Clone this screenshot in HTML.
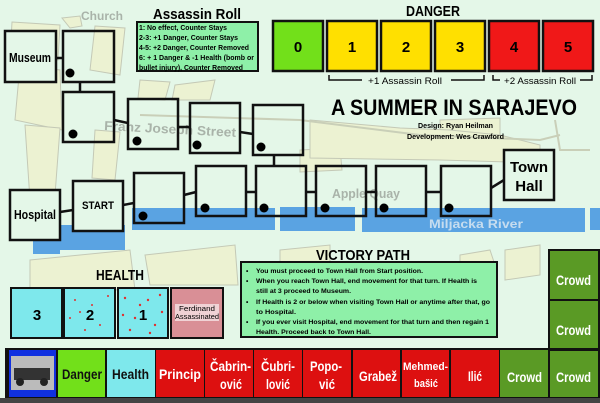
<!DOCTYPE html>
<html><head><meta charset="utf-8"><style>
body{margin:0;width:600px;height:403px;overflow:hidden;background:#e4f7e8;font-family:"Liberation Sans",sans-serif}
svg{display:block}
text{font-family:"Liberation Sans",sans-serif;font-weight:bold}
</style></head><body>
<svg width="600" height="403" viewBox="0 0 600 403" xmlns="http://www.w3.org/2000/svg">
<rect width="600" height="403" fill="#e4f7e8"/>
<g fill="#ecf2d2" stroke="#c4c9b6" stroke-width="1">
<path d="M12 22 L60 25 L58 60 L10 58Z"/>
<path d="M62 18 L80 16 L82 26 L70 28Z"/>
<path d="M95 26 L125 28 L120 75 L90 70Z"/>
<path d="M20 65 L60 70 L62 130 L15 120Z"/>
<path d="M25 125 L60 128 L55 195 L30 200Z"/>
<path d="M95 130 L120 132 L115 180 L92 178Z"/>
<path d="M140 80 L170 82 L165 100 L138 98Z"/>
<path d="M175 85 L215 80 L210 100 L172 100Z"/>
<path d="M300 150 L340 148 L342 170 L300 172Z"/>
<path d="M440 120 L500 118 L500 140 L440 140Z"/>
<path d="M310 120 L400 128 L450 130 L500 135 L540 145 L540 160 L510 162 L440 160 L310 158Z"/>
<path d="M30 260 L130 250 L135 290 L30 290Z"/>
<path d="M145 255 L235 245 L238 285 L150 285Z"/>
<path d="M280 250 L330 245 L330 262 L280 262Z"/>
<path d="M505 250 L540 245 L540 275 L505 280Z"/>
<path d="M460 255 L490 250 L495 265 L460 268Z"/>
</g>
<g fill="none" stroke="#c9cfb8" stroke-width="2">
<path d="M140 115 L300 120 L420 135 L540 140 L560 135"/>
<path d="M555 120 L560 150 L590 150"/>
</g>
<g fill="#5aa3e2">
<rect x="33" y="222" width="27" height="32"/>
<rect x="60" y="225" width="65" height="25"/>
<rect x="132" y="208" width="143" height="22"/>
<rect x="280" y="207" width="75" height="24"/>
<rect x="362" y="208" width="223" height="24"/>
<rect x="590" y="208" width="10" height="22"/>
</g>
<text x="81" y="20" font-size="12" fill="#a9b3a9" textLength="42" lengthAdjust="spacingAndGlyphs">Church</text>
<text x="104" y="130" font-size="13" fill="#a9b3a9" transform="rotate(3 104 130)" textLength="132" lengthAdjust="spacingAndGlyphs">Franz Joseph Street</text>
<text x="332" y="198" font-size="13" fill="#a9b3a9" textLength="68" lengthAdjust="spacingAndGlyphs">Apple Quay</text>
<text x="429" y="228" font-size="12" fill="#c6dcef" textLength="94" lengthAdjust="spacingAndGlyphs">Miljacka River</text>
<g stroke="#111" stroke-width="2.5">
<line x1="56" y1="58" x2="63" y2="58"/><line x1="80" y1="82" x2="80" y2="92"/>
<line x1="114" y1="120" x2="128" y2="123"/><line x1="178" y1="127" x2="190" y2="127"/>
<line x1="240" y1="132" x2="253" y2="134"/><line x1="274" y1="155" x2="274" y2="166"/>
<line x1="60" y1="212" x2="73" y2="210"/><line x1="123" y1="205" x2="134" y2="203"/>
<line x1="184" y1="195" x2="196" y2="192"/><line x1="246" y1="192" x2="256" y2="192"/>
<line x1="306" y1="192" x2="316" y2="192"/><line x1="367" y1="192" x2="376" y2="192"/>
<line x1="426" y1="192" x2="441" y2="192"/><line x1="491" y1="188" x2="504" y2="180"/>
</g>
<g fill="none" stroke="#111" stroke-width="2.5">
<rect x="5" y="31" width="51" height="51" fill="#e4f7e8"/>
<rect x="63" y="31" width="51" height="51"/>
<rect x="63" y="92" width="51" height="50"/>
<rect x="128" y="99" width="50" height="50"/>
<rect x="190" y="103" width="50" height="50"/>
<rect x="253" y="105" width="50" height="50"/>
<rect x="10" y="190" width="50" height="50" fill="#e4f7e8"/>
<rect x="73" y="181" width="50" height="50" fill="#e4f7e8"/>
<rect x="134" y="173" width="50" height="50"/>
<rect x="196" y="166" width="50" height="50"/>
<rect x="256" y="166" width="50" height="50"/>
<rect x="316" y="166" width="50" height="50"/>
<rect x="376" y="166" width="50" height="50"/>
<rect x="441" y="166" width="50" height="50"/>
<rect x="504" y="150" width="50" height="50" fill="#e4f7e8"/>
</g>
<g fill="#000">
<circle cx="70" cy="73" r="4.5"/><circle cx="73" cy="134" r="4.5"/><circle cx="137" cy="141" r="4.5"/>
<circle cx="197" cy="145" r="4.5"/><circle cx="261" cy="147" r="4.5"/><circle cx="143" cy="216" r="4.5"/>
<circle cx="205" cy="208" r="4.5"/><circle cx="264" cy="208" r="4.5"/><circle cx="325" cy="208" r="4.5"/>
<circle cx="384" cy="208" r="4.5"/><circle cx="449" cy="208" r="4.5"/>
</g>
<text x="9" y="62" font-size="13" textLength="42" lengthAdjust="spacingAndGlyphs">Museum</text>
<text x="14" y="219" font-size="13" textLength="42" lengthAdjust="spacingAndGlyphs">Hospital</text>
<text x="82" y="209" font-size="11" textLength="32" lengthAdjust="spacingAndGlyphs">START</text>
<text x="529" y="172" font-size="15" text-anchor="middle">Town</text>
<text x="529" y="191" font-size="15" text-anchor="middle">Hall</text>
<text x="153" y="19" font-size="15" textLength="88" lengthAdjust="spacingAndGlyphs">Assassin Roll</text>
<rect x="137" y="22" width="121" height="49" fill="#8ef0a8" stroke="#111" stroke-width="2"/>
<g font-size="7.2"><text x="139" y="30" textLength="88" lengthAdjust="spacingAndGlyphs">1: No effect, Counter Stays</text>
<text x="139" y="40" textLength="99" lengthAdjust="spacingAndGlyphs">2-3: +1 Danger, Counter Stays</text>
<text x="139" y="50" textLength="110" lengthAdjust="spacingAndGlyphs">4-5: +2 Danger, Counter Removed</text>
<text x="139" y="60" textLength="115" lengthAdjust="spacingAndGlyphs">6: + 1 Danger &amp; -1 Health (bomb or</text>
<text x="139" y="70" textLength="104" lengthAdjust="spacingAndGlyphs">bullet injury), Counter Removed</text></g>
<text x="406" y="16" font-size="15" textLength="54" lengthAdjust="spacingAndGlyphs">DANGER</text>
<g stroke="#111" stroke-width="2.5">
<rect x="273" y="21" width="50" height="50" fill="#72e01a"/>
<rect x="327" y="21" width="50" height="50" fill="#ffe000"/>
<rect x="381" y="21" width="50" height="50" fill="#ffe000"/>
<rect x="435" y="21" width="50" height="50" fill="#ffe000"/>
<rect x="489" y="21" width="50" height="50" fill="#f01818"/>
<rect x="543" y="21" width="50" height="50" fill="#f01818"/>
</g>
<g font-size="15" text-anchor="middle"><text x="298" y="52">0</text><text x="352" y="52">1</text><text x="406" y="52">2</text><text x="460" y="52">3</text><text x="514" y="52">4</text><text x="568" y="52">5</text></g>
<g fill="none" stroke="#111" stroke-width="1.5">
<path d="M329 75 V80 H362"/><path d="M451 80 H484 V75"/>
<path d="M493 75 V80 H500"/><path d="M580 80 H592 V75"/>
</g>
<text x="368" y="84" font-size="9" style="font-weight:normal" textLength="74" lengthAdjust="spacingAndGlyphs">+1 Assassin Roll</text>
<text x="504" y="84" font-size="9" style="font-weight:normal" textLength="72" lengthAdjust="spacingAndGlyphs">+2 Assassin Roll</text>
<text x="331" y="115" font-size="22" textLength="246" lengthAdjust="spacingAndGlyphs">A SUMMER IN SARAJEVO</text>
<text x="418" y="128" font-size="7" textLength="75" lengthAdjust="spacingAndGlyphs">Design: Ryan Heilman</text>
<text x="407" y="139" font-size="7" textLength="97" lengthAdjust="spacingAndGlyphs">Development: Wes Crawford</text>
<text x="96" y="280" font-size="15" textLength="48" lengthAdjust="spacingAndGlyphs">HEALTH</text>
<g stroke="#111" stroke-width="2">
<rect x="11" y="288" width="51" height="50" fill="#7ee8ec"/>
<rect x="64" y="288" width="51" height="50" fill="#7ee8ec"/>
<rect x="118" y="288" width="50" height="50" fill="#7ee8ec"/>
<rect x="171" y="288" width="52" height="50" fill="#d98f96"/>
</g>
<g fill="#e03030">
<circle cx="75" cy="300" r="1"/><circle cx="100" cy="325" r="1"/><circle cx="85" cy="330" r="1"/><circle cx="108" cy="296" r="1"/><circle cx="70" cy="318" r="1"/><circle cx="92" cy="305" r="1"/><circle cx="80" cy="312" r="1"/>
<circle cx="125" cy="298" r="1.2"/><circle cx="140" cy="305" r="1.2"/><circle cx="160" cy="295" r="1.2"/><circle cx="130" cy="330" r="1.2"/><circle cx="155" cy="325" r="1.2"/><circle cx="123" cy="315" r="1.2"/><circle cx="150" cy="333" r="1.2"/><circle cx="162" cy="312" r="1.2"/><circle cx="135" cy="318" r="1.2"/><circle cx="148" cy="300" r="1.2"/>
</g>
<g font-size="15" text-anchor="middle"><text x="37" y="320">3</text><text x="90" y="320">2</text><text x="143" y="320">1</text></g>
<rect x="175" y="304" width="44" height="17" fill="#fff" opacity="0.6"/>
<text x="179" y="311" font-size="7" style="font-weight:normal" textLength="36" lengthAdjust="spacingAndGlyphs">Ferdinand</text>
<text x="175" y="319" font-size="7" style="font-weight:normal" textLength="44" lengthAdjust="spacingAndGlyphs">Assassinated</text>
<text x="316" y="260" font-size="15" textLength="94" lengthAdjust="spacingAndGlyphs">VICTORY PATH</text>
<rect x="241" y="262" width="256" height="75" fill="#8ef0a8" stroke="#111" stroke-width="2"/>
<g font-size="6.6"><text x="246" y="273">•</text><text x="256" y="273" textLength="167" lengthAdjust="spacingAndGlyphs">You must proceed to Town Hall from Start position.</text>
<text x="246" y="283">•</text><text x="256" y="283" textLength="221" lengthAdjust="spacingAndGlyphs">When you reach Town Hall, end movement for that turn. If Health is</text>
<text x="256" y="293" textLength="95" lengthAdjust="spacingAndGlyphs">still at 3 proceed to Museum.</text>
<text x="246" y="304">•</text><text x="256" y="304" textLength="234" lengthAdjust="spacingAndGlyphs">If Health is 2 or below when visiting Town Hall or anytime after that, go</text>
<text x="256" y="314" textLength="40" lengthAdjust="spacingAndGlyphs">to Hospital.</text>
<text x="246" y="324">•</text><text x="256" y="324" textLength="233" lengthAdjust="spacingAndGlyphs">If you ever visit Hospital, end movement for that turn and then regain 1</text>
<text x="256" y="334" textLength="115" lengthAdjust="spacingAndGlyphs">Health. Proceed back to Town Hall.</text></g>
<rect x="548" y="249" width="52" height="152" fill="#111"/>
<rect x="550" y="251" width="48" height="48" fill="#5a9a25"/>
<rect x="550" y="301" width="48" height="48" fill="#5a9a25"/>
<rect x="5" y="348" width="595" height="52" fill="#111"/>
<rect x="0" y="398" width="600" height="5" fill="#444"/>
<rect x="9" y="350" width="47" height="47" fill="#1030e0"/>
<rect x="11" y="356" width="43" height="34" fill="#bbb"/>
<rect x="14" y="368" width="36" height="12" fill="#333"/>
<circle cx="20" cy="382" r="4" fill="#222"/><circle cx="44" cy="382" r="4" fill="#222"/>
<rect x="58" y="350" width="47" height="47" fill="#72e01a"/>
<rect x="107" y="350" width="48" height="47" fill="#7ee8ec"/>
<g fill="#dd1010">
<rect x="156" y="350" width="48" height="47"/><rect x="205" y="350" width="48" height="47"/>
<rect x="254" y="350" width="48" height="47"/><rect x="303" y="350" width="48" height="47"/>
<rect x="353" y="350" width="47" height="47"/><rect x="402" y="350" width="47" height="47"/>
<rect x="451" y="350" width="48" height="47"/></g>
<rect x="500" y="350" width="48" height="47" fill="#5a9a25"/>
<rect x="550" y="351" width="48" height="46" fill="#5a9a25"/>
<g font-size="14" fill="#111"><text x="62" y="379" textLength="40" lengthAdjust="spacingAndGlyphs">Danger</text><text x="112" y="379" textLength="37" lengthAdjust="spacingAndGlyphs">Health</text></g>
<g font-size="14" fill="#fff">
<text x="159" y="379" textLength="42" lengthAdjust="spacingAndGlyphs">Princip</text>
<text x="210" y="371" textLength="41" lengthAdjust="spacingAndGlyphs">Čabrin-</text><text x="220" y="389" textLength="22" lengthAdjust="spacingAndGlyphs">ović</text>
<text x="261" y="371" textLength="34" lengthAdjust="spacingAndGlyphs">Čubri-</text><text x="266" y="389" textLength="24" lengthAdjust="spacingAndGlyphs">lović</text>
<text x="310" y="371" textLength="32" lengthAdjust="spacingAndGlyphs">Popo-</text><text x="319" y="389" textLength="16" lengthAdjust="spacingAndGlyphs">vić</text>
<text x="359" y="381" textLength="38" lengthAdjust="spacingAndGlyphs">Grabež</text>
<text x="403" y="370" font-size="11" textLength="45" lengthAdjust="spacingAndGlyphs">Mehmed-</text><text x="414" y="387" font-size="11" textLength="24" lengthAdjust="spacingAndGlyphs">bašić</text>
<text x="468" y="381" textLength="14" lengthAdjust="spacingAndGlyphs">Ilić</text>
<text x="507" y="382" textLength="35" lengthAdjust="spacingAndGlyphs">Crowd</text><text x="556" y="382" textLength="35" lengthAdjust="spacingAndGlyphs">Crowd</text>
<text x="556" y="285" textLength="35" lengthAdjust="spacingAndGlyphs">Crowd</text><text x="556" y="335" textLength="35" lengthAdjust="spacingAndGlyphs">Crowd</text>
</g>
</svg>
</body></html>
